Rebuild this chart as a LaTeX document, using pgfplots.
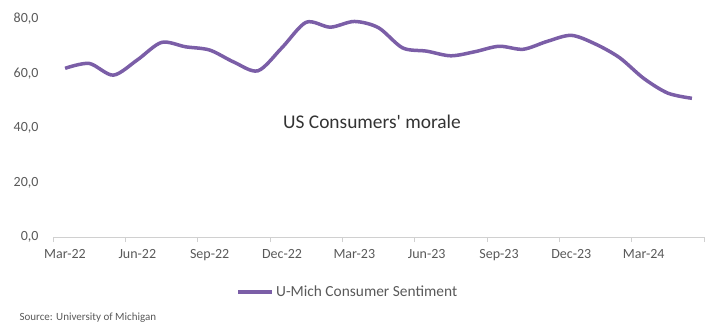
\documentclass[border=0pt]{standalone}
\usepackage{fontspec}
\setmainfont{Carlito}
\usepackage{pgfplots}
\pgfplotsset{compat=1.18}
\definecolor{linepurple}{HTML}{7B5EA7}
\definecolor{txtgrey}{HTML}{595959}
\definecolor{axgrey}{HTML}{D0D0D0}
\begin{document}
\begin{tikzpicture}
\path[use as bounding box] (0,0) rectangle (706pt,335pt);
\begin{axis}[
  at={(53pt,98pt)}, anchor=south west,
  scale only axis, width=651pt, height=218pt,
  xmin=-0.5, xmax=26.5, ymin=0, ymax=80,
  axis lines*=left,
  x axis line style={draw=axgrey, line width=1pt, -},
  y axis line style={draw=none},
  ytick={0,20,40,60,80},
  ytick style={draw=none},
  yticklabel style={font=\fontsize{14}{16}\selectfont, text=txtgrey, xshift=-6pt},
  /pgf/number format/.cd, fixed, fixed zerofill, precision=1, use comma, assume math mode=true,
  /pgfplots/.cd,
  xtick={-0.5,2.5,...,26.5},
  xticklabels={Mar-22,Jun-22,Sep-22,Dec-22,Mar-23,Jun-23,Sep-23,Dec-23,Mar-24,{}},
  xtick style={draw=axgrey, line width=1pt},
  tick align=outside, major tick length=5pt,
  xticklabel style={font=\fontsize{14}{16}\selectfont, text=txtgrey, yshift=-4pt, xshift=12pt},
  legend style={at={(0.453,-0.252)}, anchor=center, draw=none, fill=none,
    font=\fontsize{15.4}{18}\selectfont, text=txtgrey},
  legend image code/.code={\path (0pt,0pt) -- (34pt,0pt); \draw[#1, line width=4pt, line cap=round] (2pt,0pt) -- (28pt,0pt);},
  clip=false,
]
\addplot[linepurple, line width=3.5pt, smooth, tension=0.5] coordinates {
(0,61.9) (1,63.7) (2,59.4) (3,65.0) (4,71.4) (5,69.8) (6,68.6) (7,64.2) (8,61.0)
(9,69.5) (10,78.8) (11,77.0) (12,79.1) (13,76.8) (14,69.4) (15,68.2) (16,66.5)
(17,68.0) (18,70.0) (19,68.9) (20,71.8) (21,74.0) (22,70.8) (23,65.8) (24,58.2)
(25,52.8) (26,50.9)
};
\addlegendentry{U-Mich Consumer Sentiment}
\node[font=\fontsize{19.4}{22}\selectfont, text=black!80] at (axis description cs:0.49,0.527) {US Consumers\textquotesingle\ morale};
\end{axis}
\node[anchor=west, font=\fontsize{11}{13}\selectfont, text=txtgrey] at (16pt,17pt) {Source: University of Michigan};
\end{tikzpicture}
\end{document}
